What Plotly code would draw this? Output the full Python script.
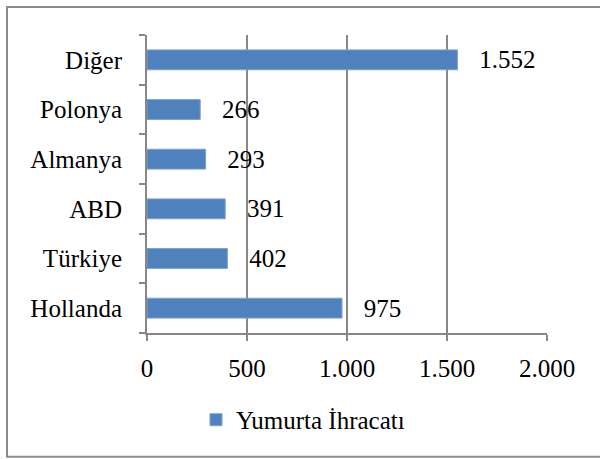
import plotly.graph_objects as go

# Yumurta ihracatı (ülkelere göre)
countries = ['Hollanda', 'Türkiye', 'ABD', 'Almanya', 'Polonya', 'Diğer']
exports = [975, 402, 391, 293, 266, 1552]
x_ticks = [0, 500, 1000, 1500, 2000]
series_name = 'Yumurta İhracatı'

bar_color = '#4F81BD'
grid_color = '#878787'
font_family = 'Liberation Serif'

fig = go.Figure(go.Bar(
    y=countries,
    x=exports,
    orientation='h',
    name=series_name,
    marker=dict(color=bar_color, line=dict(color='#7DA2D0', width=1)),
    width=0.4,
    texttemplate='   %{x:,}',
    textposition='outside',
    constraintext='none',
    textfont=dict(size=25, color='black', family=font_family),
    cliponaxis=False,
    showlegend=True,
))

fig.update_layout(
    width=600, height=459,
    margin=dict(l=147, r=53, t=35, b=126, autoexpand=False),
    paper_bgcolor='white',
    plot_bgcolor='white',
    separators=',.',
    font=dict(family=font_family, size=25, color='black'),
    legend=dict(
        orientation='h',
        x=0.505, xref='container', xanchor='center',
        y=0.085, yref='container', yanchor='middle',
        font=dict(size=25),
        itemwidth=30,
    ),
    xaxis=dict(
        range=[0, 2000],
        tickvals=x_ticks,
        tickformat=',d',
        showgrid=True, gridcolor=grid_color, gridwidth=2,
        showline=True, linecolor=grid_color, linewidth=2,
        ticks='outside', ticklen=6, tickcolor=grid_color, tickwidth=2,
        ticklabelstandoff=6,
        zeroline=False,
        automargin=False,
    ),
    yaxis=dict(
        type='category',
        categoryorder='array', categoryarray=countries,
        showgrid=False,
        showline=True, linecolor=grid_color, linewidth=2,
        ticks='outside', ticklen=6, tickcolor=grid_color, tickwidth=2,
        tickson='boundaries',
        ticklabelstandoff=18,
        range=[-0.5, 5.5],
        automargin=False,
    ),
)

# outer chart border (right edge runs past the window)
fig.add_shape(
    type='rect', xref='paper', yref='paper',
    x0=-0.35, x1=1.16, y0=-0.415, y1=1.094,
    line=dict(color='#8C8C8C', width=2),
    fillcolor='rgba(0,0,0,0)', layer='above',
)

# page body has a default 8px margin; drop it so the figure fills the window
fig.write_html('out.html', config={'displayModeBar': False},
               post_script="document.body.style.margin='0';")
